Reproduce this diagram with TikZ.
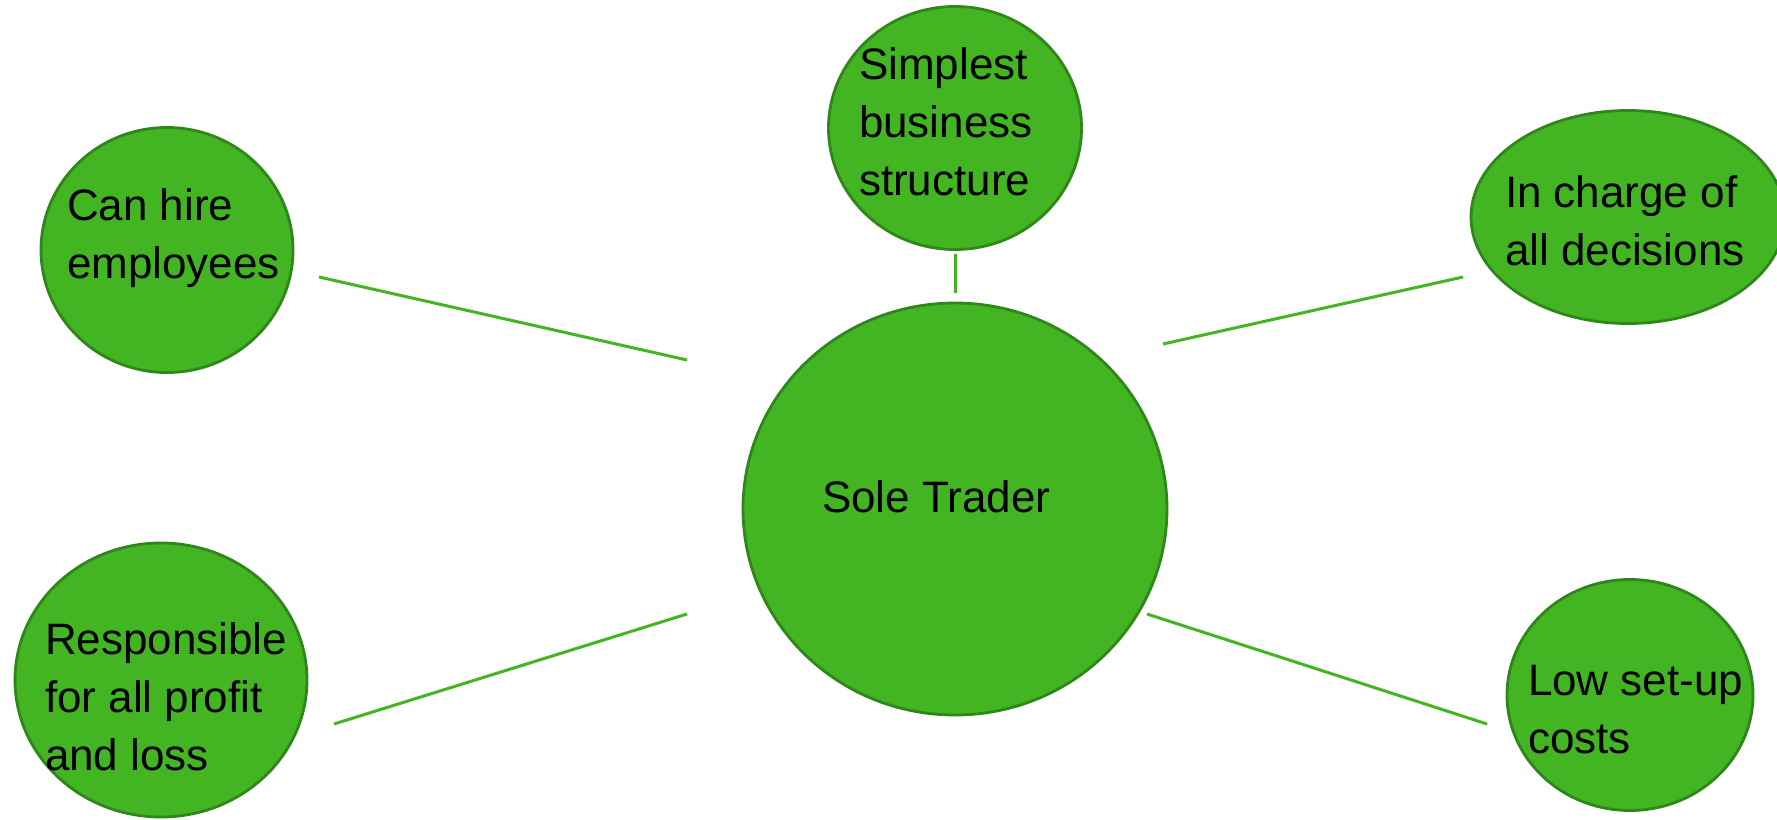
\documentclass[tikz,border=0pt]{standalone}
\usepackage{fontspec}
\setmainfont{Liberation Sans}
\usetikzlibrary{shapes.geometric}
\definecolor{leaf}{RGB}{67,181,34}
\definecolor{leafdark}{RGB}{47,134,26}
\begin{document}
\begin{tikzpicture}[x=1pt,y=-1pt,
  bubble/.style={ellipse, draw=leafdark, line width=2.8pt, fill=leaf, inner sep=0pt, outer sep=0pt},
  lbl/.style={inner sep=0pt, outer sep=0pt, align=left, anchor=base west, font=\fontsize{44}{58}\selectfont},
  link/.style={draw=leaf, line width=3pt}]
\useasboundingbox (0,0) rectangle (1777,819);
\clip (0,0) rectangle (1777,819);
\fill[white] (0,0) rectangle (1777,819);
% bubbles
\node[bubble, minimum width=424pt, minimum height=412pt] (sole) at (955,509) {};
\node[bubble, minimum width=253pt, minimum height=243pt] (simple) at (955,128) {};
\node[bubble, minimum width=252pt, minimum height=245pt] (hire) at (167,250) {};
\node[bubble, minimum width=314pt, minimum height=213pt] (charge) at (1628,217) {};
\node[bubble, minimum width=292pt, minimum height=274pt] (resp) at (161,680) {};
\node[bubble, minimum width=246pt, minimum height=231pt] (low) at (1630,695) {};
% texts (anchor = baseline of the last line)
\node[lbl] (tsole) at (822,512) {Sole Trader};
\node[lbl] (tsimple) at (859,195) {Simplest\\business\\structure};
\node[lbl] (thire) at (67,278) {Can hire\\employees};
\node[lbl] (tcharge) at (1505,265) {In charge of\\all decisions};
\node[lbl] (tresp) at (45,770) {Responsible\\for all profit\\and loss};
\node[lbl] (tlow) at (1528,753) {Low set-up\\costs};
% connector ends
\coordinate (a1) at (319,277); \coordinate (a2) at (687,360);
\coordinate (b1) at (1163,344); \coordinate (b2) at (1463,277);
\coordinate (c1) at (955,254); \coordinate (c2) at (955,293);
\coordinate (d1) at (334,724); \coordinate (d2) at (687,614);
\coordinate (e1) at (1147,614); \coordinate (e2) at (1487,724);
\draw[link] (a1) -- (a2);
\draw[link] (b1) -- (b2);
\draw[link] (c1) -- (c2);
\draw[link] (d1) -- (d2);
\draw[link] (e1) -- (e2);
\end{tikzpicture}
\end{document}
